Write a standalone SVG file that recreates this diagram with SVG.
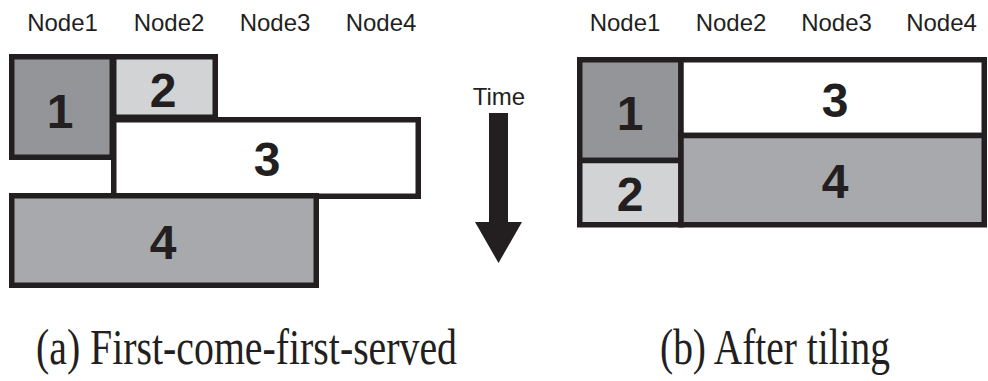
<svg xmlns="http://www.w3.org/2000/svg" width="988" height="381" viewBox="0 0 988 381">
<style>
.box{stroke:#231f20;stroke-width:5.5}
.hdr{font-family:"Liberation Sans",Arial,sans-serif;font-size:24px;fill:#231f20;text-anchor:middle}
.num{font-family:"Liberation Sans",Arial,sans-serif;font-size:48px;font-weight:bold;fill:#231f20;text-anchor:middle}
.cap{font-family:"Liberation Serif","Times New Roman",serif;font-size:50px;fill:#231f20}
</style>
<rect width="988" height="381" fill="#ffffff"/>
<g id="headers-a">
<text class="hdr" x="62.5" y="31">Node1</text>
<text class="hdr" x="169" y="31">Node2</text>
<text class="hdr" x="275" y="31">Node3</text>
<text class="hdr" x="381" y="31">Node4</text>
</g>
<g id="headers-b">
<text class="hdr" x="625" y="31">Node1</text>
<text class="hdr" x="731" y="31">Node2</text>
<text class="hdr" x="836.5" y="31">Node3</text>
<text class="hdr" x="941.5" y="31">Node4</text>
</g>
<g id="a-job1"><rect class="box" x="11.75" y="56.75" width="100.5" height="100.5" fill="#939598"/><text class="num" x="60" y="128">1</text></g>
<g id="a-job2"><rect class="box" x="113.75" y="56.75" width="101.5" height="60.5" fill="#d1d3d4"/><text class="num" x="163" y="107">2</text></g>
<g id="a-job3"><rect class="box" x="113.75" y="119.75" width="304.5" height="76.5" fill="#ffffff"/><text class="num" x="267" y="176">3</text></g>
<g id="a-job4"><rect class="box" x="11.75" y="195.75" width="304.5" height="89.5" fill="#a7a9ac"/><text class="num" x="163" y="259">4</text></g>
<g id="b-job1"><rect class="box" x="579.75" y="59.75" width="101.25" height="100.75" fill="#939598"/><text class="num" x="630" y="130">1</text></g>
<g id="b-job2"><rect class="box" x="579.75" y="160.5" width="101.25" height="64.25" fill="#d1d3d4"/><text class="num" x="630" y="211">2</text></g>
<g id="b-job3"><rect class="box" x="681" y="59.75" width="303.25" height="75.75" fill="#ffffff"/><text class="num" x="835" y="117">3</text></g>
<g id="b-job4"><rect class="box" x="681" y="135.5" width="303.25" height="89.25" fill="#a7a9ac"/><text class="num" x="835" y="198">4</text></g>
<g id="time">
<text class="hdr" x="499" y="105">Time</text>
<polygon points="489,113 508,113 508,222 522,222 498.5,263 475,222 489,222" fill="#231f20"/>
</g>
<g id="captions">
<text class="cap" x="36" y="364" textLength="421" lengthAdjust="spacingAndGlyphs">(a) First-come-first-served</text>
<text class="cap" x="660" y="364" textLength="230" lengthAdjust="spacingAndGlyphs">(b) After tiling</text>
</g>
</svg>
